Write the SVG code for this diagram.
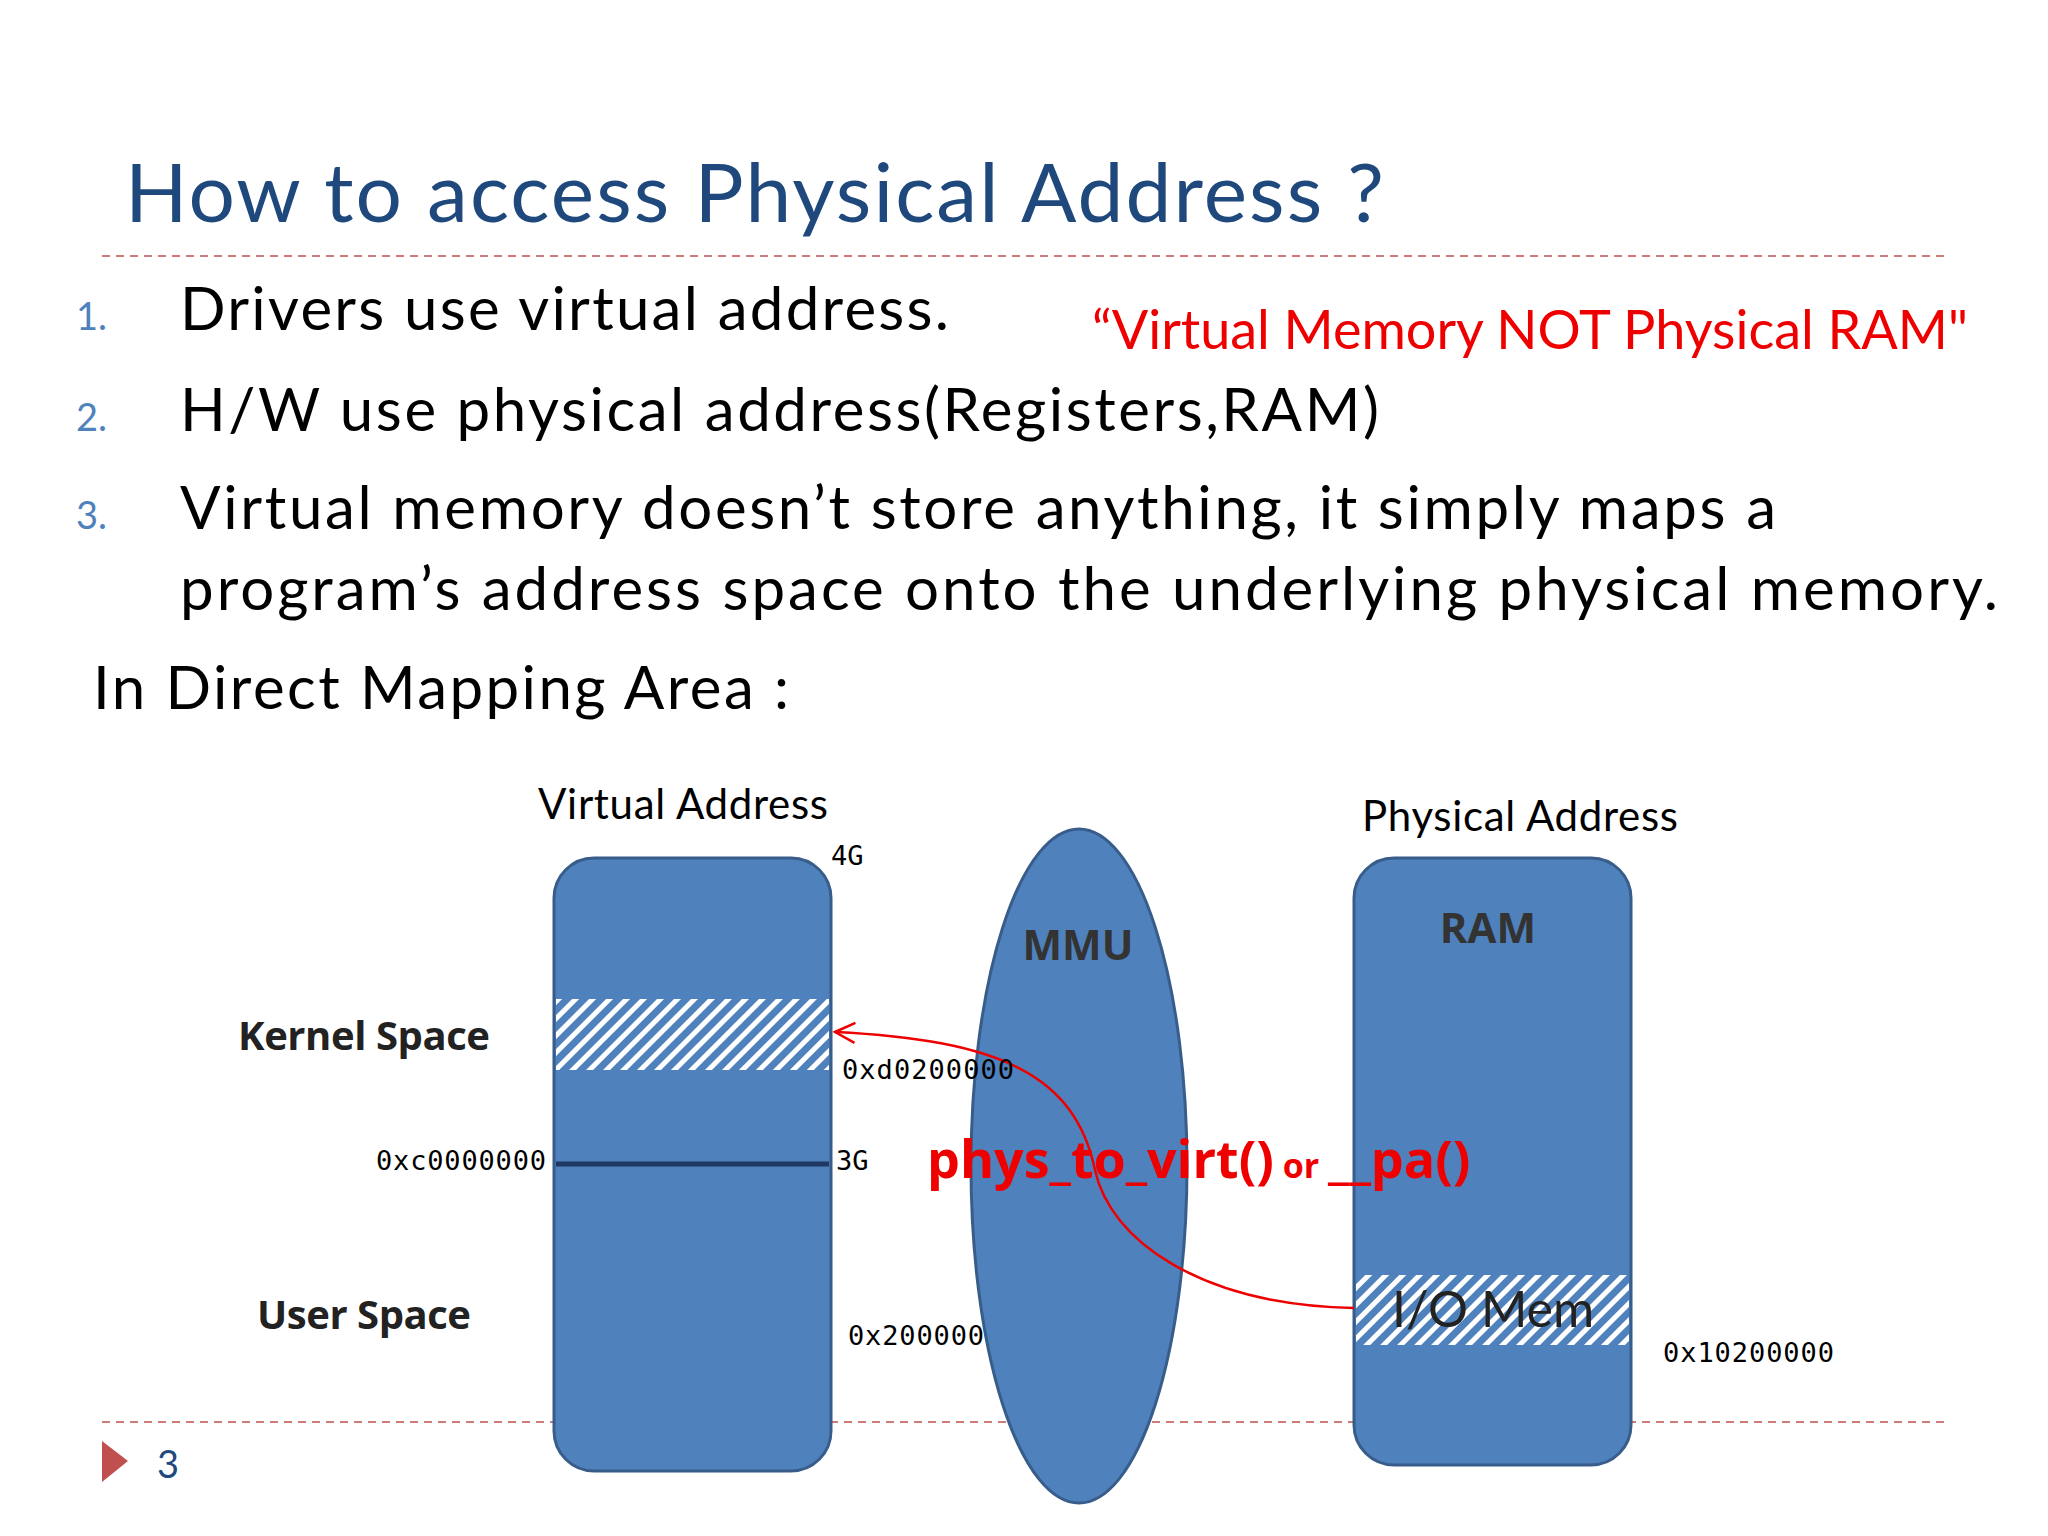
<svg xmlns="http://www.w3.org/2000/svg" width="2048" height="1536" viewBox="0 0 2048 1536">
<defs>
<style>
.t{font-family:Lato,"Open Sans",sans-serif}
.m{font-family:"DejaVu Sans Mono","Liberation Mono",monospace;font-size:27px;fill:#000}
.b{font-family:"Open Sans",Lato,sans-serif;font-weight:bold}
.box{fill:#4F81BD;stroke:#385D8A;stroke-width:3}
.dash{stroke:#C0504D;stroke-width:1.5;stroke-dasharray:8 6}
</style>
<pattern id="hatch" patternUnits="userSpaceOnUse" width="12" height="12" patternTransform="rotate(45)">
<rect width="12" height="12" fill="#fff"/>
<rect width="7" height="12" fill="#4F81BD"/>
</pattern>
<marker id="arr" viewBox="0 0 24 24" refX="22" refY="12" markerWidth="24" markerHeight="24" markerUnits="userSpaceOnUse" orient="auto">
<path d="M2,2 L22,12 L2,22" fill="none" stroke="#E00" stroke-width="2.5"/>
</marker>
</defs>
<rect width="2048" height="1536" fill="#fff"/>
<text class="t" x="125" y="222" font-size="82" fill="#1F497D" textLength="1259">How to access Physical Address ?</text>
<line class="dash" x1="102" y1="256" x2="1946" y2="256"/>
<line class="dash" x1="102" y1="1422" x2="1946" y2="1422"/>
<g class="t" font-size="38" fill="#4F81BD">
<text x="76" y="330">1.</text><text x="76" y="431">2.</text><text x="76" y="529">3.</text>
</g>
<g class="t" font-size="60" fill="#000">
<text x="180" y="330" textLength="769">Drivers use virtual address.</text>
<text x="180" y="431" textLength="1199">H/W use physical address(Registers,RAM)</text>
<text x="180" y="529" textLength="1596">Virtual memory doesn’t store anything, it simply maps a</text>
<text x="180" y="610" textLength="1818">program’s address space onto the underlying physical memory.</text>
<text x="93" y="709" textLength="696">In Direct Mapping Area :</text>
</g>
<text class="t" x="1092" y="349" font-size="54" fill="#E00" textLength="876">“Virtual Memory NOT Physical RAM"</text>

<g id="virtual">
<text class="t" x="538" y="819" font-size="42" fill="#000" textLength="290">Virtual Address</text>
<rect class="box" x="554" y="858" width="277" height="613" rx="40"/>
<rect x="556" y="999" width="273" height="71" fill="url(#hatch)"/>
<line x1="556" y1="1164" x2="829" y2="1164" stroke="#1F3864" stroke-width="5"/>
<text class="m" x="831" y="865">4G</text>
<text class="m" x="836" y="1170">3G</text>
<text class="m" x="376" y="1170" textLength="170">0xc0000000</text>
<text class="b" x="238" y="1050" font-size="40" fill="#222" textLength="252">Kernel Space</text>
<text class="b" x="257" y="1329" font-size="40" fill="#222" textLength="214">User Space</text>
</g>
<g id="mmu">
<ellipse class="box" cx="1079" cy="1166" rx="108" ry="337"/>
<text class="b" x="1078" y="960" font-size="42" fill="#333" text-anchor="middle">MMU</text>
</g>
<g id="physical">
<text class="t" x="1362" y="831" font-size="42" fill="#000" textLength="316">Physical Address</text>
<rect class="box" x="1354" y="858" width="277" height="607" rx="40"/>
<rect x="1356" y="1275" width="273" height="70" fill="url(#hatch)"/>
<text class="b" x="1488" y="943" font-size="42" fill="#333" text-anchor="middle">RAM</text>
<text class="t" x="1493" y="1327" font-size="50" fill="#222" text-anchor="middle">I/O Mem</text>
<text class="m" x="1663" y="1362" textLength="171">0x10200000</text>
</g>
<g id="connectors">
<path d="M1354,1308 C1200,1305 1110,1240 1095,1170 C1075,1075 1000,1040 835,1032" fill="none" stroke="#E00" stroke-width="2.5" marker-end="url(#arr)"/>
</g>
<text class="m" x="842" y="1079" textLength="172">0xd0200000</text>
<text class="m" x="848" y="1345" textLength="136">0x200000</text>
<text class="b" x="927" y="1178" font-size="52" fill="#E00">phys_to_virt()<tspan font-size="34"> or </tspan>__pa()</text>
<path d="M102,1441 L128,1461 L102,1482 Z" fill="#C0504D"/>
<text class="t" x="157" y="1478" font-size="38" fill="#1F497D">3</text>
</svg>
